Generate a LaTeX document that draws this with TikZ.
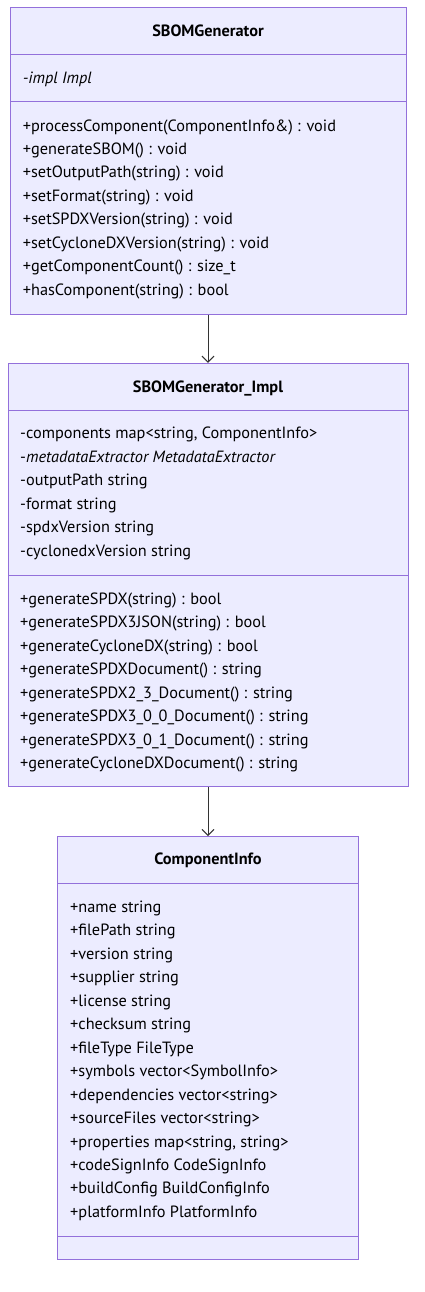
\documentclass[tikz,border=0pt]{standalone}
\usepackage{fontspec}
\setmainfont{PT Sans}
\usepackage{xcolor}
\usetikzlibrary{positioning,arrows.meta}
\definecolor{umlfill}{HTML}{ECECFF}
\definecolor{umlline}{HTML}{9370DB}
\definecolor{linkgray}{HTML}{333333}
\tikzset{
  classbox/.style={draw=umlline,fill=umlfill,line width=1pt,inner sep=0pt},
  divider/.style={draw=umlline,line width=1pt},
  classtitle/.style={anchor=base,inner sep=0pt,font=\bfseries\fontsize{16.3}{19}\selectfont},
  member/.style={anchor=base west,inner sep=0pt,font=\fontsize{16.3}{19}\selectfont},
  link/.style={draw=linkgray,line width=1pt,-{Straight Barb[length=6pt,width=12pt]}}
}
\begin{document}
\begin{tikzpicture}[x=1pt,y=-1pt]
\useasboundingbox (0,0) rectangle (424,1292);

% class boxes
\node[classbox,minimum width=396pt,minimum height=306pt] (gen) at (208,161) {};
\node[classbox,minimum width=400pt,minimum height=423.4pt] (impl) at (208,575) {};
\node[classbox,minimum width=301.4pt,minimum height=423.3pt] (info) at (208,1048.3) {};

% compartments
\draw[divider] (10,54.7) -- (406,54.7);
\draw[divider] (10,101.7) -- (406,101.7);
\draw[divider] (8,410) -- (408,410);
\draw[divider] (8,575.3) -- (408,575.3);
\draw[divider] (57.3,883.3) -- (358.7,883.3);
\draw[divider] (57.3,1236.7) -- (358.7,1236.7);

% titles
\node[classtitle] (gen-title) at (208,36.2) {SBOMGenerator};
\node[classtitle] (impl-title) at (208,392.2) {SBOMGenerator\_Impl};
\node[classtitle] (info-title) at (208,864.8) {ComponentInfo};

% SBOMGenerator members
\node[member] (gen-a1) at (22.7,83.2) {\textit{-impl Impl}};
\foreach \txt [count=\i] in {
  +processComponent(ComponentInfo\&) : void,
  +generateSBOM() : void,
  +setOutputPath(string) : void,
  +setFormat(string) : void,
  +setSPDXVersion(string) : void,
  +setCycloneDXVersion(string) : void,
  +getComponentCount() : size\_t,
  +hasComponent(string) : bool}
  \node[member] (gen-m\i) at (22.7,{131.2+(\i-1)*23.4}) {\txt};

% SBOMGenerator_Impl members
\foreach \txt [count=\i] in {
  {-components map<string, ComponentInfo>},
  -\textit{metadataExtractor MetadataExtractor},
  -outputPath string,
  -format string,
  -spdxVersion string,
  -cyclonedxVersion string}
  \node[member] (impl-a\i) at (20,{438.8+(\i-1)*23.5}) {\txt};
\foreach \txt [count=\i] in {
  +generateSPDX(string) : bool,
  +generateSPDX3JSON(string) : bool,
  +generateCycloneDX(string) : bool,
  +generateSPDXDocument() : string,
  +generateSPDX2\_3\_Document() : string,
  +generateSPDX3\_0\_0\_Document() : string,
  +generateSPDX3\_0\_1\_Document() : string,
  +generateCycloneDXDocument() : string}
  \node[member] (impl-m\i) at (20,{604.5+(\i-1)*23.47}) {\txt};

% ComponentInfo members
\foreach \txt [count=\i] in {
  +name string,
  +filePath string,
  +version string,
  +supplier string,
  +license string,
  +checksum string,
  +fileType FileType,
  +symbols vector<SymbolInfo>,
  +dependencies vector<string>,
  +sourceFiles vector<string>,
  {+properties map<string, string>},
  +codeSignInfo CodeSignInfo,
  +buildConfig BuildConfigInfo,
  +platformInfo PlatformInfo}
  \node[member] (info-a\i) at (70,{912.5+(\i-1)*23.45}) {\txt};

% links
\draw[link] (gen) -- (impl);
\draw[link] (impl) -- (info);
\end{tikzpicture}
\end{document}
